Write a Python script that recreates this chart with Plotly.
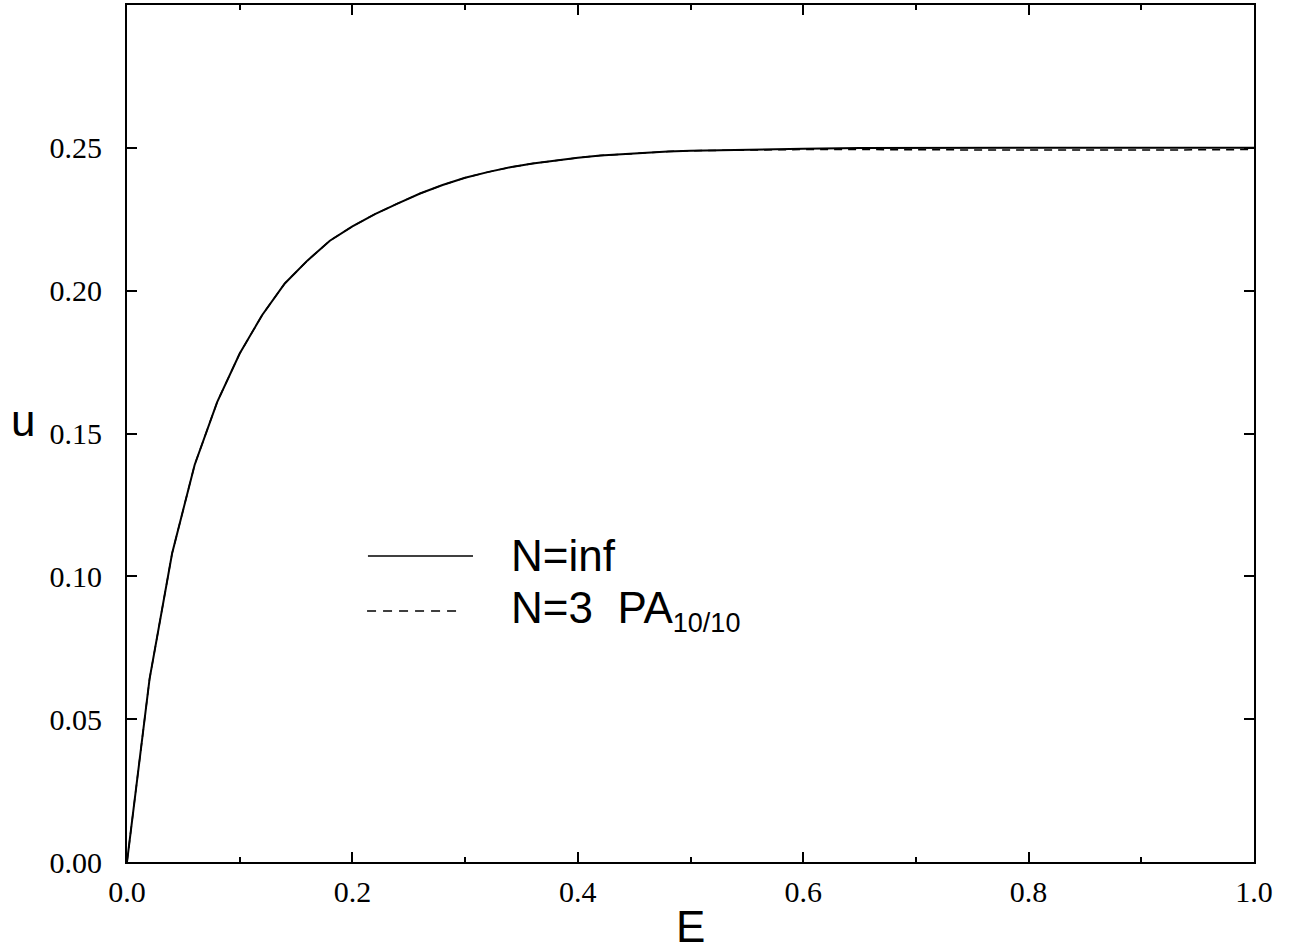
import plotly.graph_objects as go

# Energy grid and u(E) for the infinite-N solution
E_vals = [0.0, 0.02, 0.04, 0.06, 0.08, 0.10, 0.12, 0.14, 0.16, 0.18, 0.20,
          0.22, 0.24, 0.26, 0.28, 0.30, 0.32, 0.34, 0.36, 0.38, 0.40,
          0.42, 0.44, 0.46, 0.48, 0.50, 0.55, 0.60, 0.65, 0.70, 0.80, 0.90, 1.00]
u_inf = [0.0, 0.064, 0.108, 0.139, 0.161, 0.178, 0.1915, 0.2025, 0.2105, 0.2175, 0.2225,
         0.2268, 0.2305, 0.2340, 0.2370, 0.2395, 0.2415, 0.2432, 0.2445, 0.2456, 0.2465,
         0.2473, 0.2478, 0.2483, 0.2487, 0.2490, 0.2494, 0.2497, 0.2499, 0.2500, 0.2500, 0.2500, 0.2500]
# N=3 Pade approximant [10/10]
u_pa = [0.0, 0.064, 0.108, 0.139, 0.161, 0.178, 0.1915, 0.2025, 0.2105, 0.2175, 0.2225,
        0.2268, 0.2305, 0.2340, 0.2370, 0.2395, 0.2415, 0.2432, 0.2445, 0.2456, 0.2465,
        0.2473, 0.2478, 0.2483, 0.2487, 0.2490, 0.2493, 0.2494, 0.2494, 0.2493, 0.2492, 0.2492, 0.2494]

x_ticks = [0.0, 0.2, 0.4, 0.6, 0.8, 1.0]
y_ticks = [0.00, 0.05, 0.10, 0.15, 0.20, 0.25]

fig = go.Figure()
fig.add_trace(go.Scatter(x=E_vals, y=u_pa, mode="lines",
                         line=dict(color="black", width=1.5, dash="8px,6px")))
fig.add_trace(go.Scatter(x=E_vals, y=u_inf, mode="lines",
                         line=dict(color="black", width=2)))

tick_font = dict(family="Liberation Serif, Times New Roman, serif", size=30, color="black")
axis_common = dict(showline=True, linecolor="black", linewidth=2, mirror="allticks",
                   ticks="inside", ticklen=10, tickwidth=1.5, tickcolor="black",
                   showgrid=False, zeroline=False, tickfont=tick_font)

fig.update_xaxes(range=[0, 1], tickvals=x_ticks, ticktext=[f"{v:.1f}" for v in x_ticks],
                 minor=dict(dtick=0.1, tick0=0, ticks="inside", ticklen=5, tickwidth=1.5,
                            tickcolor="black"),
                 ticklabelstandoff=2, **axis_common)
fig.update_yaxes(range=[0, 0.3], tickvals=y_ticks, ticktext=[f"{v:.2f}" for v in y_ticks],
                 ticklabelstandoff=17, **axis_common)

sans = "Liberation Sans, Arial, sans-serif"
# axis titles
fig.add_annotation(text="E", xref="paper", yref="paper", x=0.5, y=-0.0448,
                   xanchor="center", yanchor="top", showarrow=False,
                   font=dict(family=sans, size=44, color="black"))
fig.add_annotation(text="u", xref="paper", yref="paper", x=-0.0923, y=0.515,
                   xanchor="center", yanchor="middle", showarrow=False,
                   font=dict(family=sans, size=44, color="black"))

# legend lines and labels
fig.add_shape(type="line", xref="paper", yref="paper", x0=0.2138, x1=0.3070, y0=0.3571, y1=0.3571,
              line=dict(color="black", width=1.5))
fig.add_shape(type="line", xref="paper", yref="paper", x0=0.2130, x1=0.2981, y0=0.2929, y1=0.2929,
              line=dict(color="black", width=1.5, dash="9px,7px"))
fig.add_annotation(text="N=inf", xref="paper", yref="paper", x=0.3390, y=0.3571,
                   xanchor="left", yanchor="middle", showarrow=False,
                   font=dict(family=sans, size=44, color="black"))
fig.add_annotation(text="N=3  PA<sub><span style='font-size:27px'>10/10</span></sub>",
                   xref="paper", yref="paper", x=0.3390, y=0.2929,
                   xanchor="left", yanchor="middle", showarrow=False,
                   font=dict(family=sans, size=44, color="black"))

fig.update_layout(width=1292, height=951, showlegend=False,
                  margin=dict(l=127, r=38, t=5, b=89, autoexpand=False),
                  plot_bgcolor="white", paper_bgcolor="white")

fig.write_html("out.html")
